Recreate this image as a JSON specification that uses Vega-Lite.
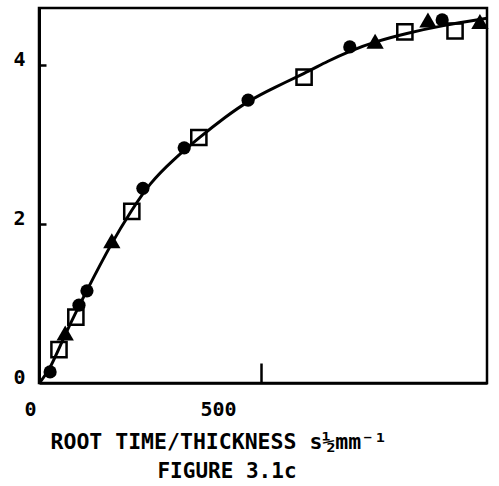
{
  "$schema": "https://vega.github.io/schema/vega-lite/v6.json",
  "width": 448,
  "height": 375,
  "autosize": {"type": "none"},
  "padding": {"left": 39, "top": 8, "right": 12, "bottom": 103},
  "background": "white",
  "config": {
    "view": {"stroke": "black", "strokeWidth": 2.5},
    "font": "DejaVu Sans Mono"
  },
  "title": {
    "text": "FIGURE 3.1c",
    "orient": "bottom",
    "anchor": "middle",
    "dx": -36,
    "offset": 8,
    "font": "DejaVu Sans Mono",
    "fontSize": 21,
    "fontWeight": "bold",
    "color": "black"
  },
  "datasets": {
    "obs": [
      {"set": "A", "t": 25, "v": 0.14},
      {"set": "A", "t": 90, "v": 0.98},
      {"set": "A", "t": 108, "v": 1.16},
      {"set": "A", "t": 234, "v": 2.45},
      {"set": "A", "t": 327, "v": 2.96},
      {"set": "A", "t": 471, "v": 3.56},
      {"set": "A", "t": 700, "v": 4.23},
      {"set": "A", "t": 908, "v": 4.57},
      {"set": "B", "t": 45, "v": 0.42},
      {"set": "B", "t": 83, "v": 0.83},
      {"set": "B", "t": 209, "v": 2.16},
      {"set": "B", "t": 360, "v": 3.09},
      {"set": "B", "t": 597, "v": 3.85},
      {"set": "B", "t": 824, "v": 4.42},
      {"set": "B", "t": 937, "v": 4.43},
      {"set": "C", "t": 59, "v": 0.63},
      {"set": "C", "t": 164, "v": 1.79},
      {"set": "C", "t": 757, "v": 4.3},
      {"set": "C", "t": 876, "v": 4.57},
      {"set": "C", "t": 993, "v": 4.55}
    ],
    "curve": [
      {"t": 2, "v": 0.01},
      {"t": 25, "v": 0.17},
      {"t": 59, "v": 0.62},
      {"t": 108, "v": 1.17},
      {"t": 164, "v": 1.77},
      {"t": 209, "v": 2.18},
      {"t": 250, "v": 2.52},
      {"t": 300, "v": 2.8},
      {"t": 363, "v": 3.1},
      {"t": 420, "v": 3.35},
      {"t": 471, "v": 3.55},
      {"t": 530, "v": 3.72},
      {"t": 599, "v": 3.9},
      {"t": 650, "v": 4.05},
      {"t": 700, "v": 4.18},
      {"t": 759, "v": 4.3},
      {"t": 826, "v": 4.4},
      {"t": 908, "v": 4.5},
      {"t": 1009, "v": 4.59}
    ]
  },
  "encoding": {
    "x": {
      "field": "t",
      "type": "quantitative",
      "scale": {"domain": [0, 1009], "nice": false, "zero": false},
      "axis": {
        "values": [0, 500],
        "grid": false,
        "title": "ROOT TIME/THICKNESS s½mm⁻¹",
        "domainColor": "black",
        "domainWidth": 2.5,
        "tickColor": "black",
        "tickWidth": 2.5,
        "tickSize": -20,
        "tickOpacity": {"condition": {"test": "datum.value === 0", "value": 0}, "value": 1},
        "labelFont": "DejaVu Sans Mono",
        "labelFontWeight": "bold",
        "labelFontSize": 20,
        "labelColor": "black",
        "labelBaseline": "alphabetic",
        "labelPadding": 52,
        "labelFlush": false,
        "labelOverlap": false,
        "labelOffset": {"condition": {"test": "datum.value === 500", "value": -43}, "value": -9},
        "titleFont": "DejaVu Sans Mono",
        "titleFontSize": 21.5,
        "titleFontWeight": "bold",
        "titleColor": "black",
        "titleAnchor": "start",
        "titleAlign": "left",
        "titleBaseline": "alphabetic",
        "titleX": 11,
        "titleY": 65
      }
    },
    "y": {
      "field": "v",
      "type": "quantitative",
      "scale": {"domain": [0, 4.72], "nice": false},
      "axis": {
        "values": [0, 2, 4],
        "grid": false,
        "title": null,
        "domainColor": "black",
        "domainWidth": 3,
        "tickColor": "black",
        "tickWidth": 2.5,
        "tickSize": -7,
        "tickOpacity": {"condition": {"test": "datum.value === 0", "value": 0}, "value": 1},
        "labelFont": "DejaVu Sans Mono",
        "labelFontWeight": "bold",
        "labelFontSize": 20,
        "labelColor": "black",
        "labelBaseline": "alphabetic",
        "labelAlign": "right",
        "labelPadding": 21,
        "labelFlush": false,
        "labelOverlap": false
      }
    }
  },
  "layer": [
    {
      "data": {"name": "curve"},
      "mark": {"type": "line", "interpolate": "basis", "color": "black", "strokeWidth": 3, "clip": true}
    },
    {
      "data": {"name": "obs"},
      "transform": [{"filter": "datum.set === 'A'"}],
      "mark": {"type": "point", "shape": "circle", "filled": true, "color": "black", "opacity": 1, "size": 175}
    },
    {
      "data": {"name": "obs"},
      "transform": [{"filter": "datum.set === 'B'"}],
      "mark": {"type": "point", "shape": "square", "filled": false, "color": "black", "opacity": 1, "strokeWidth": 2.5, "size": 230}
    },
    {
      "data": {"name": "obs"},
      "transform": [{"filter": "datum.set === 'C'"}],
      "mark": {"type": "point", "shape": "triangle-up", "filled": true, "color": "black", "opacity": 1, "size": 300}
    }
  ]
}
